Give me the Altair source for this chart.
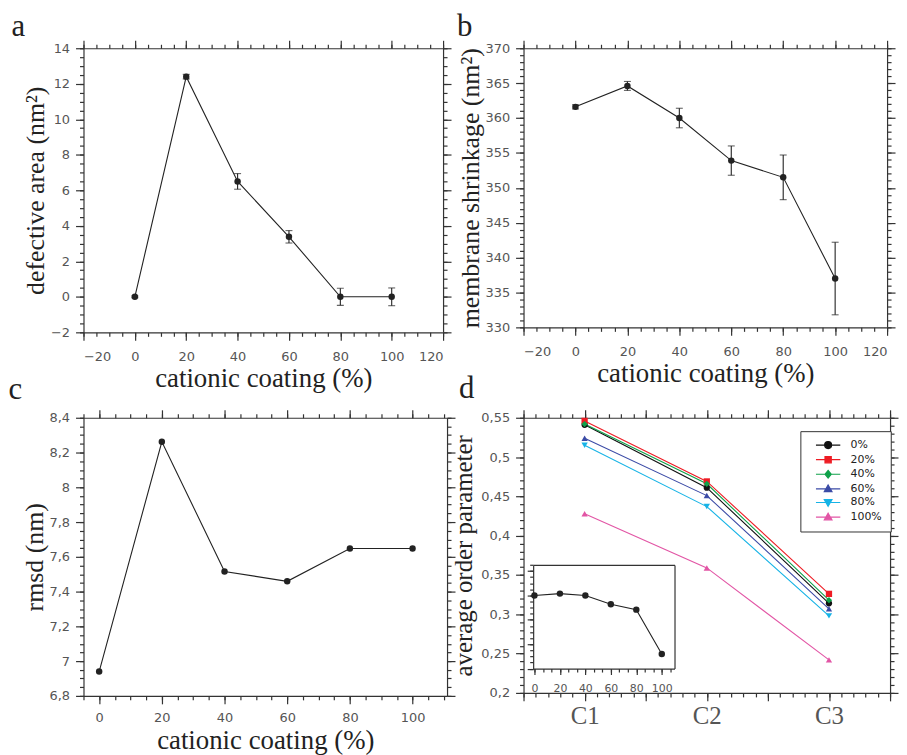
import altair as alt
import pandas as pd

# ---------------- data ----------------
coating = [0, 20, 40, 60, 80, 100]
defect_area = [0.0, 12.4, 6.5, 3.38, 0.0, 0.0]
defect_err = [0.05, 0.13, 0.44, 0.35, 0.48, 0.50]
shrinkage = [361.6, 364.6, 360.0, 353.9, 351.5, 337.0]
shrink_err = [0.30, 0.64, 1.40, 2.10, 3.20, 5.20]
rmsd = [6.94, 8.262, 7.516, 7.459, 7.648, 7.648]

carbons = ["C1", "C2", "C3"]
carbon_pos = [1, 2, 3]
series = ["0%", "20%", "40%", "60%", "80%", "100%"]
order_c1 = [0.541, 0.546, 0.542, 0.524, 0.515, 0.428]
order_c2 = [0.461, 0.469, 0.466, 0.451, 0.437, 0.359]
order_c3 = [0.314, 0.326, 0.318, 0.307, 0.298, 0.242]
inset_order = [0.440, 0.443, 0.440, 0.4255, 0.4167, 0.344]

series_colors = ["#111111", "#ee1c24", "#0fa14a", "#3b4ba6", "#16b3e6", "#e255a5"]
series_shapes = ["circle", "square", "diamond", "triangle-up", "triangle-down", "triangle-up"]

panel_letters = ["a", "b", "c", "d"]

# tick positions
a_x_major = list(range(-20, 121, 20))
a_x_minor = list(range(-20, 121, 5))
a_y_major = list(range(-2, 15, 2))
a_y_minor = [v / 2 for v in range(-4, 29)]
b_y_major = list(range(330, 371, 5))
b_y_minor = list(range(330, 371))
c_x_major = list(range(0, 101, 20))
c_x_minor = list(range(-5, 111, 5))
c_y_major = [round(6.8 + 0.2 * i, 3) for i in range(9)]
c_y_minor = [round(6.8 + 0.05 * i, 3) for i in range(33)]
d_x_major = [0.5 + 0.5 * i for i in range(7)]
d_x_minor = [round(0.5 + 0.1 * i, 3) for i in range(31)]
d_y_major = [round(0.2 + 0.05 * i, 3) for i in range(8)]
d_y_minor = [round(0.2 + 0.01 * i, 3) for i in range(36)]
in_x_major = list(range(0, 101, 20))
in_x_minor = [round(20 * i / 3, 3) for i in range(17)]
in_y_major = [0.32, 0.36, 0.40, 0.44, 0.48]
in_y_minor = [round(0.32 + 0.01 * i, 3) for i in range(18)]

# ---------------- style ----------------
INK = "#222222"
AXC = "#333333"
SERIF = "Liberation Serif"
SANS = "DejaVu Sans"
TMAJ, TMIN = 8, 4

A_W, A_H = 362, 286
B_W, B_H = 366, 281
C_W, C_H = 366, 280
D_W, D_H = 369, 277

COMMA = "replace(format(datum.value, '~g'), '.', ',')"


def frame_layers(df, xf, yf, xs, ys, xmaj, xmin, ymaj, ymin, xtitle, ytitle, xkw=None, ykw=None):
    bx = dict(orient="bottom", values=xmaj, tickSize=TMAJ, labelPadding=10, title=xtitle, titlePadding=3,
              titleFontSize=27)
    bx.update(xkw or {})
    ly = dict(orient="left", values=ymaj, tickSize=TMAJ, labelPadding=6, title=ytitle, titlePadding=2)
    ly.update(ykw or {})
    base = alt.Chart(df).mark_point(opacity=0)

    def enc(xa, ya):
        return base.encode(
            x=alt.X(xf, scale=xs, axis=alt.Axis(**xa)),
            y=alt.Y(yf, scale=ys, axis=alt.Axis(**ya)),
        )

    return [
        enc(bx, ly),
        enc(dict(orient="bottom", values=xmin, tickSize=TMIN, labels=False, domain=False, title=None),
            dict(orient="left", values=ymin, tickSize=TMIN, labels=False, domain=False, title=None)),
        enc(dict(orient="top", values=xmaj, tickSize=TMAJ, labels=False, title=None),
            dict(orient="right", values=ymaj, tickSize=TMAJ, labels=False, title=None)),
        enc(dict(orient="top", values=xmin, tickSize=TMIN, labels=False, domain=False, title=None),
            dict(orient="right", values=ymin, tickSize=TMIN, labels=False, domain=False, title=None)),
    ]


def data_layers(df, xs, ys, with_err):
    ex = alt.X("x:Q", scale=xs, axis=None)
    out = []
    base = alt.Chart(df)
    if with_err:
        out.append(base.mark_rule(color=INK, strokeWidth=1.1).encode(
            x=ex, y=alt.Y("lo:Q", scale=ys, axis=None), y2="hi:Q"))
        out.append(base.mark_tick(orient="horizontal", size=7, thickness=1.1, color=INK).encode(
            x=ex, y=alt.Y("lo:Q", scale=ys, axis=None)))
        out.append(base.mark_tick(orient="horizontal", size=7, thickness=1.1, color=INK).encode(
            x=ex, y=alt.Y("hi:Q", scale=ys, axis=None)))
    out.append(base.mark_line(color=INK, strokeWidth=1.1).encode(x=ex, y=alt.Y("y:Q", scale=ys, axis=None)))
    out.append(base.mark_circle(color=INK, size=42, opacity=1).encode(x=ex, y=alt.Y("y:Q", scale=ys, axis=None)))
    return out


def letter(t, px, py):
    return alt.Chart(pd.DataFrame({"t": [t]})).mark_text(
        font=SERIF, fontSize=31, color="#222", align="left", baseline="alphabetic"
    ).encode(text="t:N", x=alt.value(px), y=alt.value(py))


# ---------------- panel a ----------------
df_a = pd.DataFrame({"x": coating, "y": defect_area,
                     "lo": [v - e for v, e in zip(defect_area, defect_err)],
                     "hi": [v + e for v, e in zip(defect_area, defect_err)]})
xs_a = alt.Scale(domain=[-20, 120], nice=False, zero=False)
ys_a = alt.Scale(domain=[-2, 14], nice=False, zero=False)
pa = alt.layer(
    *frame_layers(df_a, "x:Q", "y:Q", xs_a, ys_a, a_x_major, a_x_minor, a_y_major, a_y_minor,
                  "cationic coating (%)", "defective area (nm²)"),
    *data_layers(df_a, xs_a, ys_a, True),
    letter(panel_letters[0], -72.5, -12.5),
).resolve_axis(x="independent", y="independent").properties(width=A_W, height=A_H)

# ---------------- panel b ----------------
df_b = pd.DataFrame({"x": coating, "y": shrinkage,
                     "lo": [v - e for v, e in zip(shrinkage, shrink_err)],
                     "hi": [v + e for v, e in zip(shrinkage, shrink_err)]})
xs_b = alt.Scale(domain=[-20, 120], nice=False, zero=False)
ys_b = alt.Scale(domain=[330, 370], nice=False, zero=False)
pb = alt.layer(
    *frame_layers(df_b, "x:Q", "y:Q", xs_b, ys_b, a_x_major, a_x_minor, b_y_major, b_y_minor,
                  "cationic coating (%)", "membrane shrinkage (nm²)"),
    *data_layers(df_b, xs_b, ys_b, True),
    letter(panel_letters[1], -67, -12.5),
).resolve_axis(x="independent", y="independent").properties(width=B_W, height=B_H)

# ---------------- panel c ----------------
df_c = pd.DataFrame({"x": coating, "y": rmsd})
xs_c = alt.Scale(domain=[-5, 111], nice=False, zero=False)
ys_c = alt.Scale(domain=[6.8, 8.4], nice=False, zero=False)
pc = alt.layer(
    *frame_layers(df_c, "x:Q", "y:Q", xs_c, ys_c, c_x_major, c_x_minor, c_y_major, c_y_minor,
                  "cationic coating (%)", "rmsd (nm)", xkw=dict(labelPadding=8),
                  ykw=dict(labelExpr=COMMA)),
    *data_layers(df_c, xs_c, ys_c, False),
    letter(panel_letters[2], -75.5, -19),
).resolve_axis(x="independent", y="independent").properties(width=C_W, height=C_H)

# ---------------- panel d ----------------
rows = []
for i, s in enumerate(series):
    for pos, vals in zip(carbon_pos, [order_c1, order_c2, order_c3]):
        rows.append({"series": s, "pos": pos, "val": vals[i]})
df_d = pd.DataFrame(rows)
xs_d = alt.Scale(domain=[0.5, 3.5], nice=False, zero=False)
ys_d = alt.Scale(domain=[0.2, 0.55], nice=False, zero=False)

c_label_expr = "''"
for name, pos in reversed(list(zip(carbons, carbon_pos))):
    c_label_expr = f"datum.value == {pos} ? '{name}' : ({c_label_expr})"

frame_d = frame_layers(df_d, "pos:Q", "val:Q", xs_d, ys_d, d_x_major, d_x_minor, d_y_major, d_y_minor,
                       None, "average order parameter",
                       xkw=dict(labelExpr=c_label_expr, labelFont=SERIF, labelFontSize=25,
                                labelColor="#555", labelPadding=3),
                       ykw=dict(labelExpr=COMMA, titlePadding=4, titleFontSize=25))

dx_enc = alt.X("pos:Q", scale=xs_d, axis=None)
dy_enc = alt.Y("val:Q", scale=ys_d, axis=None)
col_scale = alt.Scale(domain=series, range=series_colors)

d_lines = alt.Chart(df_d).mark_line(strokeWidth=1.1).encode(
    x=dx_enc, y=dy_enc, color=alt.Color("series:N", scale=col_scale, legend=None), order="pos:Q")
d_points = alt.Chart(df_d).mark_point(filled=True, size=40, opacity=1).encode(
    x=dx_enc, y=dy_enc, color=alt.Color("series:N", scale=col_scale, legend=None),
    shape=alt.Shape("series:N", scale=alt.Scale(domain=series, range=series_shapes), legend=None))

# legend symbols: a short line with the marker in the middle
a0 = 0.486
cx = a0 + 3.5
L = f"M{a0},0H{a0 + 7}"
legend_paths = [
    f"{L}M{cx + 1},0A1,1 0 1,1 {cx - 1},0A1,1 0 1,1 {cx + 1},0Z",
    f"{L}M{cx - 0.9},-0.9H{cx + 0.9}V0.9H{cx - 0.9}Z",
    f"{L}M{cx},-1.1L{cx + 0.9},0L{cx},1.1L{cx - 0.9},0Z",
    f"{L}M{cx},-1.1L{cx + 1.1},0.8L{cx - 1.1},0.8Z",
    f"{L}M{cx},1.1L{cx + 1.1},-0.8L{cx - 1.1},-0.8Z",
    f"{L}M{cx},-1.1L{cx + 1.1},0.8L{cx - 1.1},0.8Z",
]
LEG = alt.Legend(title=None, orient="none", legendX=278.7, legendY=13.5, direction="vertical",
                 padding=8.5, strokeColor="#333", fillColor="white", labelFont=SANS, labelFontSize=11,
                 labelColor="#222", labelOffset=31, rowPadding=1.7, symbolOpacity=1, symbolStrokeWidth=1.2,
                 symbolSize=49, labelExpr="datum.label + '   '", cornerRadius=0)
d_legend = alt.Chart(df_d[df_d["pos"] == carbon_pos[0]]).mark_point(filled=True, size=49, opacity=0).encode(
    x=dx_enc, y=dy_enc,
    fill=alt.Fill("series:N", scale=alt.Scale(domain=series, range=series_colors), legend=LEG),
    stroke=alt.Stroke("series:N", scale=alt.Scale(domain=series, range=series_colors), legend=LEG),
    shape=alt.Shape("series:N", scale=alt.Scale(domain=series, range=legend_paths), legend=LEG))

main_d = alt.layer(*frame_d, d_lines, d_points, d_legend, letter(panel_letters[3], -65, -20)).resolve_axis(
    x="independent", y="independent").resolve_scale(
    color="independent", shape="independent", fill="independent", stroke="independent")

# inset
IN_X0, IN_X1 = 9.7, 152
IN_YT, IN_YB = 148.2, 252.5
df_in = pd.DataFrame({"x": coating, "y": inset_order})
xs_in = alt.Scale(domain=[-1, 110], range=[IN_X0, IN_X1], nice=False, zero=False)
ys_in = alt.Scale(domain=[0.32, 0.49], range=[IN_YB, IN_YT], nice=False, zero=False)
in_base = alt.Chart(df_in)
in_line = in_base.mark_line(color=INK, strokeWidth=1.1).encode(
    x=alt.X("x:Q", scale=xs_in, axis=alt.Axis(orient="bottom", offset=IN_YB - D_H, values=in_x_major,
                                              tickSize=6, labelPadding=8, labelFontSize=11, title=None)),
    y=alt.Y("y:Q", scale=ys_in, axis=alt.Axis(orient="left", offset=-IN_X0, values=in_y_major,
                                              tickSize=6, labels=False, title=None)))
in_pts = in_base.mark_circle(color=INK, size=42, opacity=1).encode(
    x=alt.X("x:Q", scale=xs_in, axis=None), y=alt.Y("y:Q", scale=ys_in, axis=None))
in_minor = in_base.mark_point(opacity=0).encode(
    x=alt.X("x:Q", scale=xs_in, axis=alt.Axis(orient="bottom", offset=IN_YB - D_H, values=in_x_minor,
                                              tickSize=3.5, labels=False, domain=False, title=None)),
    y=alt.Y("y:Q", scale=ys_in, axis=alt.Axis(orient="left", offset=-IN_X0, values=in_y_minor,
                                              tickSize=3.5, labels=False, domain=False, title=None)))
in_box = in_base.mark_point(opacity=0).encode(
    x=alt.X("x:Q", scale=xs_in, axis=alt.Axis(orient="top", offset=-IN_YT, ticks=False, labels=False,
                                              title=None)),
    y=alt.Y("y:Q", scale=ys_in, axis=alt.Axis(orient="right", offset=IN_X1 - D_W, ticks=False,
                                              labels=False, title=None)))
inset = alt.layer(in_line, in_pts, in_minor, in_box).resolve_axis(x="independent", y="independent")

pd_ = alt.layer(main_d, inset).resolve_scale(x="independent", y="independent").properties(
    width=D_W, height=D_H)

chart = alt.concat(pa, pb, pc, pd_, columns=2, spacing={"row": -19, "column": -4}).resolve_scale(
    color="independent", shape="independent", fill="independent", stroke="independent"
).properties(padding=0, background="white").configure_axis(
    domainColor=AXC, tickColor=AXC, domainWidth=1.2, tickWidth=1.2, labelFont=SANS, labelFontSize=13,
    labelColor="#555", titleFont=SERIF, titleFontSize=26, titleFontWeight="normal", titleColor="#222",
    grid=False
).configure_view(strokeWidth=0)

chart.save("out.html", embed_options={"renderer": "svg", "actions": False})
